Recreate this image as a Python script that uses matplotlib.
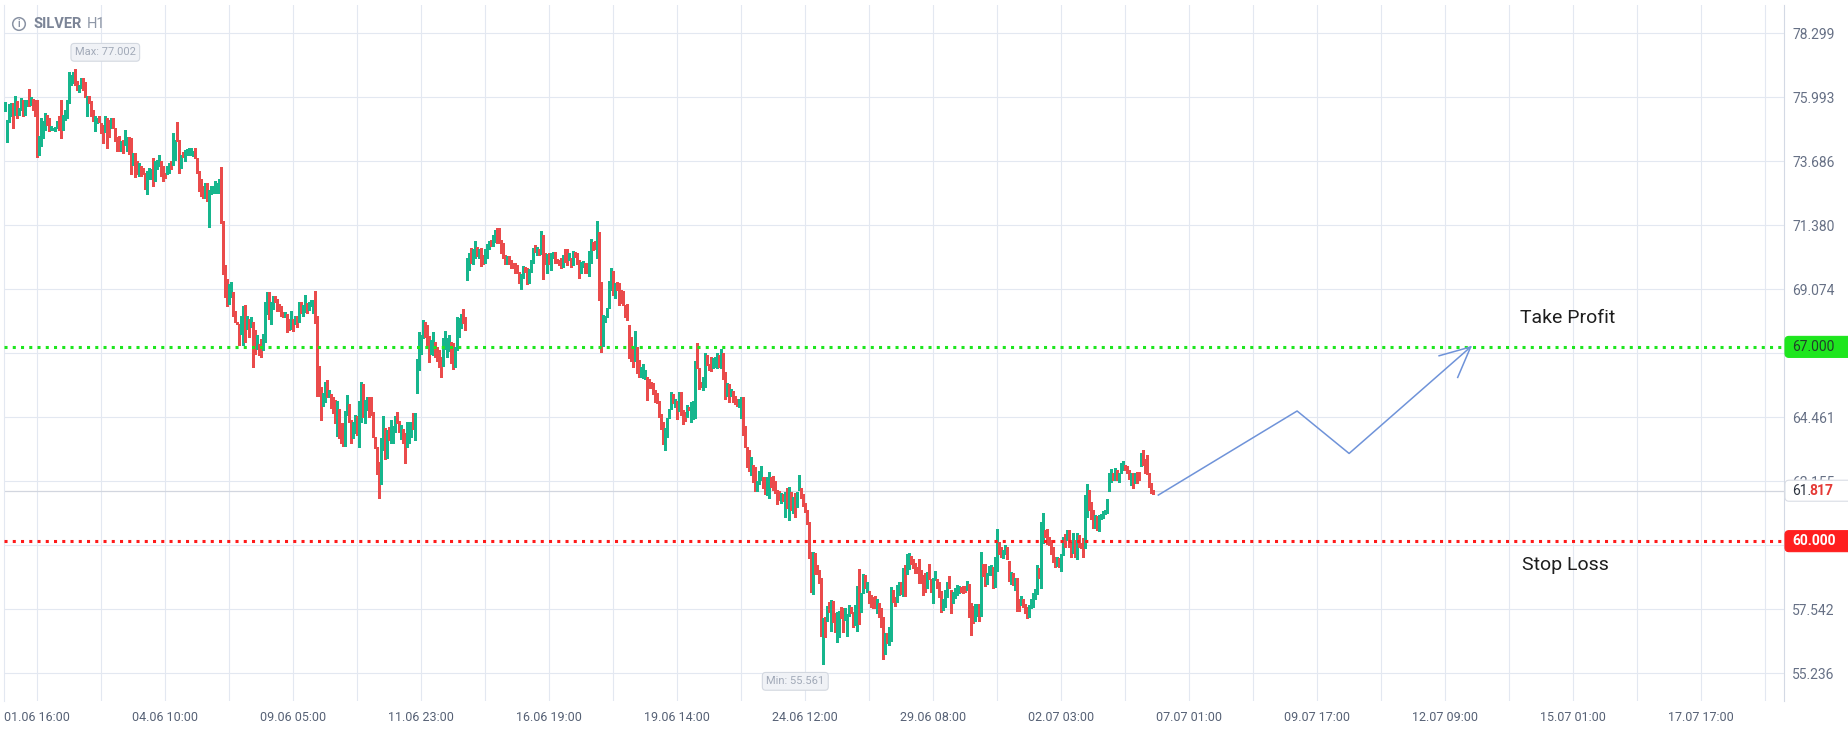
import numpy as np
import matplotlib
matplotlib.use("Agg")
import matplotlib.pyplot as plt
from matplotlib.patches import FancyBboxPatch, Circle
import matplotlib.transforms as mtransforms

plt.rcParams['font.family'] = ['Roboto', 'DejaVu Sans']

# ---------------- data (hourly SILVER candles: high, low, direction 1=up 0=down) ----------------
highs = [
    75.81, 75.19, 75.75, 75.79, 75.79, 76.05, 75.85, 75.61, 75.97, 75.91,
    75.91, 75.91, 76.30, 75.99, 75.93, 75.91, 75.91, 74.59, 75.25, 75.13,
    75.43, 75.37, 75.25, 74.97, 74.89, 74.93, 75.15, 75.33, 75.91, 75.37,
    75.55, 75.91, 76.91, 76.80, 76.92, 77.002, 76.59, 76.44, 76.68, 76.68,
    76.54, 76.03, 76.03, 75.85, 75.55, 75.31, 75.25, 75.31, 75.05, 75.01,
    75.33, 75.25, 75.19, 75.25, 75.25, 74.89, 74.57, 74.59, 74.41, 74.47,
    74.83, 74.57, 74.57, 74.53, 73.99, 73.99, 73.69, 73.63, 73.51, 73.45,
    73.28, 73.33, 73.45, 73.40, 73.81, 73.69, 73.75, 73.93, 73.69, 73.51,
    73.28, 73.51, 73.63, 73.69, 74.71, 74.47, 75.09, 74.47, 73.93, 74.02,
    74.11, 74.14, 74.15, 74.15, 74.05, 74.15, 73.81, 73.33, 73.04, 72.80,
    72.89, 72.89, 72.64, 72.80, 72.80, 72.98, 72.92, 73.04, 73.49, 71.52,
    69.95, 69.45, 69.27, 69.33, 68.97, 68.31, 67.89, 67.83, 68.13, 68.49,
    68.52, 68.13, 68.01, 68.07, 67.89, 67.60, 67.42, 67.12, 67.30, 67.48,
    68.61, 68.97, 68.97, 68.61, 68.85, 68.85, 68.73, 68.55, 68.49, 68.25,
    68.25, 68.19, 68.01, 68.31, 68.01, 68.13, 68.13, 68.61, 68.63, 68.51,
    68.87, 68.57, 68.63, 68.69, 68.69, 69.02, 68.11, 66.31, 65.56, 65.35,
    65.74, 65.80, 65.44, 65.32, 65.18, 65.08, 65.06, 64.76, 64.27, 64.27,
    64.70, 65.26, 64.94, 64.36, 64.30, 64.54, 64.51, 65.05, 65.72, 65.68,
    65.08, 65.18, 65.20, 65.20, 64.65, 63.74, 63.40, 62.84, 63.70, 64.51,
    64.06, 64.00, 64.12, 64.36, 64.15, 64.51, 64.65, 64.34, 64.18, 64.03,
    63.91, 64.30, 64.30, 64.30, 64.63, 64.63, 66.55, 67.55, 67.43, 67.97,
    67.91, 67.79, 67.39, 67.25, 67.55, 67.19, 67.00, 66.88, 66.64, 67.33,
    67.57, 67.33, 67.43, 67.19, 67.13, 67.00, 68.06, 68.05, 68.18, 68.36,
    68.09, 70.21, 70.37, 70.57, 70.52, 70.81, 70.61, 70.52, 70.55, 70.31,
    70.51, 70.70, 70.81, 70.85, 71.03, 71.21, 71.30, 71.27, 70.85, 70.73,
    70.31, 70.27, 70.27, 70.13, 70.04, 70.01, 69.95, 69.71, 69.62, 69.91,
    69.89, 69.83, 69.79, 70.13, 70.57, 70.67, 70.61, 70.52, 71.17, 71.05,
    70.40, 70.33, 70.37, 70.39, 70.43, 70.43, 70.15, 70.13, 70.19, 70.31,
    70.52, 70.52, 70.37, 70.19, 70.45, 70.43, 70.40, 70.13, 70.07, 70.09,
    70.01, 70.01, 70.45, 70.87, 70.79, 70.83, 71.53, 71.15, 69.35, 68.15,
    68.11, 68.39, 69.37, 69.83, 69.73, 69.29, 69.35, 69.29, 69.05, 69.01,
    68.51, 68.54, 67.79, 67.37, 67.01, 67.57, 67.01, 66.53, 66.29, 66.38,
    66.17, 65.93, 65.83, 65.72, 65.69, 65.44, 65.35, 65.05, 64.57, 64.30,
    64.06, 64.42, 64.78, 65.36, 65.30, 65.12, 65.06, 65.38, 65.36, 64.72,
    64.66, 64.90, 64.84, 65.02, 65.05, 66.50, 67.15, 66.23, 65.75, 65.93,
    66.79, 66.71, 66.38, 66.62, 66.59, 66.62, 66.77, 66.71, 66.91, 66.77,
    66.11, 65.71, 65.66, 65.50, 65.42, 65.24, 65.12, 65.12, 65.20, 65.20,
    64.15, 63.40, 63.28, 63.02, 62.74, 62.66, 62.18, 62.54, 62.71, 62.32,
    62.30, 62.32, 62.50, 62.32, 62.35, 62.18, 61.84, 61.82, 61.75, 61.70,
    61.78, 61.90, 61.96, 61.78, 61.58, 61.75, 61.78, 62.38, 61.93, 61.69,
    61.36, 61.12, 60.70, 59.62, 59.60, 59.56, 59.14, 58.96, 58.68, 57.22,
    57.25, 57.66, 57.82, 57.88, 57.84, 57.40, 57.46, 57.49, 57.64, 57.58,
    57.58, 57.37, 57.70, 57.64, 57.46, 57.70, 58.38, 58.99, 58.14, 58.82,
    58.78, 58.54, 58.21, 58.06, 58.00, 58.02, 57.90, 57.76, 57.60, 57.28,
    56.70, 56.68, 56.92, 58.36, 58.24, 58.00, 58.42, 58.54, 58.54, 59.02,
    59.14, 59.54, 59.56, 59.46, 59.34, 59.20, 59.08, 59.34, 58.96, 58.78,
    58.84, 58.90, 59.18, 58.62, 58.66, 58.94, 58.62, 58.54, 58.21, 57.90,
    58.24, 58.54, 58.74, 58.24, 58.18, 58.30, 58.42, 58.38, 58.36, 58.38,
    58.38, 58.56, 58.45, 57.78, 57.66, 57.73, 57.73, 57.73, 59.62, 59.16,
    59.16, 58.84, 59.10, 59.14, 59.08, 59.42, 60.44, 59.98, 59.80, 59.68,
    59.86, 59.80, 59.29, 58.90, 58.86, 58.66, 58.66, 57.90, 58.02, 57.90,
    57.73, 57.64, 57.70, 57.91, 58.12, 58.26, 59.14, 59.04, 60.70, 61.00,
    60.40, 60.44, 60.14, 60.04, 59.80, 59.44, 59.44, 59.38, 59.54, 60.14,
    60.26, 60.40, 60.40, 59.98, 60.28, 60.04, 60.28, 60.22, 59.92, 60.10,
    61.66, 62.06, 61.84, 61.42, 61.12, 60.94, 60.90, 60.94, 60.98, 61.08,
    61.14, 61.52, 62.47, 62.60, 62.47, 62.62, 62.56, 62.47, 62.80, 62.89,
    62.74, 62.71, 62.56, 62.47, 62.47, 62.47, 62.50, 62.50, 63.16, 63.28,
    62.95, 63.10, 62.47, 62.08, 61.84,
]

lows = [
    75.49, 74.38, 75.09, 75.31, 74.87, 75.37, 75.25, 75.37, 75.55, 75.31,
    75.37, 75.67, 75.67, 75.73, 75.55, 75.31, 73.84, 73.90, 74.23, 74.53,
    74.83, 75.01, 74.79, 74.81, 74.81, 74.77, 74.87, 74.83, 74.51, 74.83,
    75.19, 75.25, 75.79, 76.42, 76.50, 76.44, 76.26, 76.17, 76.32, 76.26,
    76.00, 75.31, 75.79, 75.31, 75.13, 74.79, 75.07, 75.09, 74.71, 74.33,
    74.73, 74.17, 74.55, 74.89, 74.89, 74.43, 74.05, 74.05, 74.05, 73.99,
    74.29, 74.05, 73.96, 73.24, 73.54, 73.13, 73.22, 73.16, 73.16, 73.24,
    72.70, 72.50, 73.04, 73.04, 72.80, 72.98, 73.40, 73.51, 73.16, 72.98,
    73.10, 73.22, 73.28, 73.40, 73.55, 73.75, 74.41, 73.25, 73.46, 73.85,
    73.69, 73.93, 73.93, 73.90, 73.87, 73.81, 73.28, 72.62, 72.44, 72.38,
    72.38, 72.26, 71.33, 72.50, 72.53, 72.56, 72.56, 72.56, 71.45, 69.63,
    68.79, 68.49, 68.55, 68.79, 68.13, 67.89, 67.82, 67.06, 67.48, 67.06,
    67.18, 67.66, 67.36, 67.71, 66.28, 66.76, 66.94, 66.70, 66.64, 66.88,
    67.18, 68.19, 68.01, 67.83, 68.37, 68.61, 68.31, 68.31, 68.13, 68.07,
    68.07, 67.54, 67.60, 67.66, 67.56, 67.83, 67.71, 67.89, 68.21, 68.11,
    68.27, 68.21, 68.33, 68.47, 68.21, 67.87, 65.23, 65.24, 64.36, 64.87,
    65.02, 65.20, 65.18, 64.81, 64.63, 64.27, 63.79, 63.70, 63.52, 63.44,
    63.43, 64.54, 64.30, 63.55, 63.70, 63.91, 63.82, 63.40, 64.30, 64.48,
    64.27, 64.72, 64.48, 64.54, 63.76, 63.34, 62.42, 61.56, 62.06, 63.28,
    62.96, 62.98, 63.64, 63.55, 63.55, 63.94, 64.27, 63.94, 63.67, 63.52,
    62.82, 63.40, 63.52, 63.76, 64.03, 63.64, 65.35, 66.17, 66.76, 67.31,
    67.37, 67.00, 66.46, 66.76, 66.70, 66.62, 66.50, 66.28, 65.90, 66.31,
    66.94, 66.64, 66.86, 66.43, 66.22, 66.26, 66.88, 67.34, 67.67, 67.87,
    67.61, 69.41, 69.77, 70.01, 69.98, 70.22, 70.27, 70.19, 69.91, 69.98,
    70.01, 70.22, 70.51, 70.63, 70.63, 70.79, 70.75, 70.73, 70.40, 70.19,
    69.98, 69.98, 69.98, 69.83, 69.83, 69.67, 69.67, 69.29, 69.09, 69.50,
    69.71, 69.26, 69.31, 69.71, 70.01, 70.43, 70.31, 70.31, 70.34, 69.44,
    69.98, 69.67, 69.98, 69.77, 70.22, 70.03, 70.03, 69.95, 69.83, 69.89,
    70.07, 69.95, 70.13, 69.89, 69.95, 70.25, 69.98, 69.49, 69.67, 69.89,
    69.67, 69.67, 69.55, 70.01, 70.49, 70.51, 70.19, 68.69, 66.83, 67.03,
    67.91, 68.09, 68.39, 69.05, 68.87, 68.77, 69.05, 68.51, 68.59, 68.51,
    68.09, 67.97, 66.59, 66.50, 66.29, 66.49, 66.07, 65.93, 65.90, 65.87,
    65.83, 65.08, 65.51, 65.53, 65.30, 65.02, 64.99, 64.46, 64.03, 63.50,
    63.28, 63.76, 64.42, 64.75, 64.99, 64.82, 64.39, 64.70, 64.54, 64.21,
    64.33, 64.48, 64.72, 64.30, 64.39, 64.42, 66.23, 65.47, 65.57, 65.44,
    65.57, 66.35, 66.17, 66.14, 66.25, 66.29, 66.25, 66.29, 66.23, 65.84,
    65.12, 65.24, 65.02, 65.24, 65.02, 64.94, 64.88, 64.84, 64.42, 63.82,
    63.40, 62.66, 62.54, 62.38, 62.14, 61.82, 61.82, 62.06, 62.20, 61.90,
    61.70, 61.66, 61.54, 61.96, 61.84, 61.75, 61.34, 61.48, 61.36, 61.46,
    60.86, 61.18, 60.78, 61.12, 61.02, 60.88, 61.24, 61.84, 61.54, 61.27,
    61.06, 60.62, 59.40, 58.18, 58.08, 58.80, 58.80, 58.50, 56.58, 55.561,
    56.53, 57.12, 57.46, 56.77, 57.10, 56.74, 56.38, 56.56, 57.22, 56.71,
    57.16, 56.58, 57.30, 57.42, 56.92, 56.98, 56.77, 57.00, 57.46, 58.12,
    58.30, 58.15, 57.76, 57.64, 57.60, 57.60, 57.40, 57.25, 56.92, 55.74,
    55.93, 56.34, 56.26, 56.41, 57.82, 57.66, 57.82, 58.06, 58.09, 58.02,
    58.02, 58.82, 58.98, 59.17, 59.02, 58.86, 58.84, 58.48, 58.48, 58.06,
    58.18, 58.30, 58.62, 58.18, 57.78, 58.60, 58.30, 58.00, 57.46, 57.52,
    57.64, 58.00, 58.30, 57.40, 57.76, 57.94, 58.06, 58.12, 58.18, 58.14,
    58.18, 58.24, 57.28, 56.62, 57.06, 57.13, 57.30, 57.13, 57.30, 58.74,
    58.38, 58.45, 58.78, 58.78, 58.30, 58.36, 58.94, 59.54, 59.42, 59.38,
    59.54, 59.34, 58.57, 58.45, 58.42, 58.24, 57.49, 57.49, 57.70, 57.61,
    57.42, 57.22, 57.25, 57.58, 57.64, 57.90, 58.09, 58.66, 58.32, 59.92,
    60.14, 59.90, 59.86, 59.54, 59.24, 59.08, 59.12, 59.08, 58.94, 59.50,
    59.80, 60.04, 59.80, 59.44, 59.56, 59.44, 59.34, 59.80, 59.74, 59.44,
    59.74, 60.88, 61.12, 60.80, 60.46, 60.46, 60.40, 60.38, 60.79, 60.82,
    60.98, 61.00, 61.82, 62.14, 62.20, 62.20, 62.20, 62.14, 62.47, 62.56,
    62.56, 62.44, 62.24, 62.02, 61.90, 62.08, 62.11, 62.20, 62.71, 62.74,
    62.47, 62.42, 61.94, 61.72, 61.70,
]

up = [
    1, 1, 1, 1, 0, 1, 0, 1, 1, 0,
    1, 1, 0, 1, 0, 0, 0, 1, 1, 1,
    1, 0, 0, 1, 1, 1, 1, 0, 0, 1,
    1, 1, 1, 1, 1, 0, 0, 1, 1, 0,
    0, 1, 0, 0, 0, 1, 1, 0, 0, 0,
    1, 0, 0, 1, 0, 0, 0, 0, 1, 0,
    1, 1, 0, 0, 1, 0, 0, 1, 0, 0,
    0, 1, 1, 1, 0, 1, 1, 1, 0, 0,
    0, 1, 1, 0, 1, 1, 0, 0, 1, 0,
    1, 1, 1, 1, 1, 0, 0, 0, 0, 0,
    1, 0, 1, 1, 1, 1, 1, 1, 0, 0,
    0, 0, 1, 1, 0, 0, 0, 0, 1, 1,
    0, 1, 0, 1, 0, 0, 1, 0, 0, 1,
    1, 1, 0, 1, 1, 0, 0, 0, 0, 0,
    1, 0, 0, 1, 0, 1, 0, 1, 0, 1,
    1, 0, 1, 1, 1, 0, 0, 0, 0, 1,
    1, 0, 1, 0, 0, 0, 1, 0, 0, 0,
    1, 1, 0, 0, 1, 1, 0, 1, 1, 0,
    1, 1, 0, 0, 0, 0, 0, 0, 1, 1,
    0, 1, 0, 1, 1, 1, 0, 0, 1, 0,
    0, 1, 1, 1, 0, 1, 1, 1, 1, 1,
    0, 0, 0, 1, 1, 0, 0, 0, 0, 1,
    1, 1, 1, 0, 0, 1, 1, 1, 1, 0,
    0, 1, 1, 0, 1, 1, 0, 1, 0, 0,
    1, 1, 1, 0, 1, 1, 0, 0, 0, 0,
    0, 1, 0, 0, 0, 0, 0, 0, 1, 1,
    0, 0, 1, 1, 1, 0, 1, 0, 1, 0,
    0, 1, 0, 1, 1, 0, 0, 0, 0, 1,
    0, 0, 1, 0, 1, 0, 0, 0, 1, 1,
    0, 0, 1, 1, 0, 0, 1, 0, 0, 1,
    1, 1, 1, 1, 0, 1, 0, 0, 0, 0,
    0, 0, 0, 0, 0, 1, 0, 0, 1, 1,
    1, 0, 0, 0, 0, 0, 0, 0, 0, 0,
    1, 1, 1, 1, 0, 1, 0, 1, 0, 0,
    0, 1, 0, 1, 1, 1, 0, 0, 0, 1,
    1, 0, 0, 0, 1, 1, 1, 0, 1, 0,
    0, 1, 0, 1, 0, 0, 0, 1, 1, 0,
    0, 0, 0, 1, 0, 0, 1, 1, 1, 0,
    0, 1, 1, 0, 0, 0, 0, 0, 1, 0,
    1, 0, 1, 0, 1, 0, 1, 1, 0, 0,
    0, 0, 0, 0, 1, 0, 0, 0, 0, 1,
    0, 1, 0, 1, 0, 0, 1, 1, 0, 0,
    1, 1, 1, 0, 0, 1, 1, 0, 1, 1,
    0, 1, 0, 0, 0, 0, 1, 0, 0, 0,
    1, 0, 1, 1, 0, 0, 1, 1, 0, 1,
    0, 1, 1, 0, 0, 0, 0, 0, 0, 0,
    0, 1, 0, 0, 1, 1, 0, 0, 0, 1,
    1, 1, 0, 0, 1, 1, 1, 1, 0, 0,
    0, 1, 0, 0, 0, 1, 1, 0, 1, 0,
    0, 1, 1, 1, 0, 1, 1, 0, 0, 1,
    1, 0, 0, 1, 0, 1, 0, 0, 1, 0,
    0, 0, 1, 1, 1, 1, 1, 0, 1, 1,
    0, 0, 0, 0, 0, 0, 1, 0, 1, 1,
    0, 1, 0, 0, 1, 0, 1, 0, 0, 0,
    1, 1, 0, 0, 0, 1, 0, 1, 1, 1,
    1, 1, 1, 1, 0, 1, 0, 1, 1, 1,
    0, 0, 0, 1, 0, 1, 0, 0, 1, 0,
    0, 0, 0, 0, 0,
]

last_price = 61.817
tp_price = 67.000
sl_price = 60.000

y_ticks = [78.299, 75.993, 73.686, 71.380, 69.074, 66.768, 64.461, 62.155, 59.849, 57.542, 55.236]
x_labels = ['01.06 16:00', '04.06 10:00', '09.06 05:00', '11.06 23:00', '16.06 19:00',
            '19.06 14:00', '24.06 12:00', '29.06 08:00', '02.07 03:00', '07.07 01:00',
            '09.07 17:00', '12.07 09:00', '15.07 01:00', '17.07 17:00']
first_label_bar = 16
bars_per_label = 64

# projected path (bar index, price) drawn as a blue arrow
arrow_bar = [576.5, 645.9, 671.9, 732.7]
arrow_price = [61.66, 64.69, 63.16, 67.00]
arrow_head_bar = [716.9, 726.2]
arrow_head_price = [66.68, 65.90]

# ---------------- figure ----------------
W, H = 1848, 729
fig = plt.figure(figsize=(W / 100, H / 100), dpi=100)
fig.patch.set_facecolor('white')
ax = fig.add_axes([4 / W, 28 / H, 1780 / W, 696 / H])
ax.set_facecolor('white')
ax.set_xlim(-0.65, 889.35)
ax.set_ylim(54.24, 79.32)

grid_c = '#e3e8f1'
green_c = '#16b68d'
red_c = '#ea4b4b'

n = min(len(highs), len(lows), len(up))
xs = np.arange(n)
hi = np.array(highs[:n])
lo = np.array(lows[:n])
cols = [green_c if u else red_c for u in up[:n]]
ax.vlines(xs, lo, hi, colors=cols, linewidth=0.8, antialiased=False, zorder=3)

# ticks / grid
major = [first_label_bar + bars_per_label * k for k in range(len(x_labels))]
minor = [first_label_bar + bars_per_label // 2 + bars_per_label * k for k in range(len(x_labels))]
ax.set_xticks(major)
ax.set_xticklabels(x_labels)
ax.set_xticks(minor, minor=True)
ax.set_yticks(y_ticks)
# labels lying under the TP / SL tags are hidden, as in the reference
hidden = {f'{tp_price:.3f}', f'{sl_price:.3f}'}
ylabels = []
for v in y_ticks:
    if abs(v - tp_price) < 0.5 or abs(v - sl_price) < 0.5:
        ylabels.append('')
    else:
        ylabels.append(f'{v:.3f}')
ax.set_yticklabels(ylabels)
ax.grid(True, which='both', color=grid_c, linewidth=0.8, zorder=0)
ax.set_axisbelow(True)
ax.yaxis.tick_right()
ax.tick_params(axis='y', which='both', length=0, pad=6, labelsize=10, labelcolor='#667085')
ax.tick_params(axis='x', which='both', length=0, pad=7, labelsize=9, labelcolor='#566175')
for s in ['top', 'bottom']:
    ax.spines[s].set_visible(False)
ax.spines['left'].set_color(grid_c)
ax.spines['left'].set_linewidth(0.8)
ax.spines['right'].set_color('#d3d9e4')
ax.spines['right'].set_linewidth(0.8)

# price lines
ax.axhline(last_price, color='#d2d6df', linewidth=0.9, zorder=2)
ax.axhline(tp_price, color='#1ee61e', linewidth=2.2, linestyle=(0, (1, 1.7)), zorder=4)
ax.axhline(sl_price, color='#ff1a1a', linewidth=2.2, linestyle=(0, (1, 1.7)), zorder=4)

# projection arrow
ax.plot(arrow_bar, arrow_price, color='#6f93d9', linewidth=1.1, zorder=5)
ax.plot([arrow_head_bar[0], arrow_bar[-1], arrow_head_bar[1]],
        [arrow_head_price[0], arrow_price[-1], arrow_head_price[1]],
        color='#6f93d9', linewidth=1.1, zorder=5)

ax.text(781, 68.04, 'Take Profit', ha='center', va='center', fontsize=14, color='#1e1e1e')
ax.text(780, 59.14, 'Stop Loss', ha='center', va='center', fontsize=14, color='#1e1e1e')

# max / min markers
imax = int(np.argmax(hi))
imin = int(np.argmin(lo))
box_kw = dict(boxstyle='round,pad=0.35,rounding_size=0.3', fc='#f0f2f6', ec='#d3d8e0', lw=0.8)
ax.annotate(f'Max: {hi[imax]:.3f}', xy=(imax, hi[imax]), xytext=(30, 17), textcoords='offset pixels',
            ha='center', va='center', fontsize=8, color='#a2aab8', bbox=box_kw, zorder=6)
ax.annotate(f'Min: {lo[imin]:.3f}', xy=(imin, lo[imin]), xytext=(-28, -17), textcoords='offset pixels',
            ha='center', va='center', fontsize=8, color='#a2aab8', bbox=box_kw, zorder=6)

# ---------------- right-side value tags ----------------
ident = mtransforms.IdentityTransform()

def ypix(price):
    return ax.transData.transform((0, price))[1]

def tag(price, fc, ec, zorder=7):
    yp = ypix(price)
    p = FancyBboxPatch((1785, yp - 10.5), 80, 21, boxstyle='round,pad=0,rounding_size=4',
                       transform=ident, fc=fc, ec=ec, lw=0.8, zorder=zorder)
    fig.add_artist(p)
    return yp

yp = tag(tp_price, '#1ee61e', '#1ee61e')
fig.text(1792, yp, f'{tp_price:.3f}', transform=ident, ha='left', va='center',
         fontsize=10, color='#20402a', zorder=8)
yp = tag(sl_price, '#ff1f1f', '#ff1f1f')
fig.text(1792, yp, f'{sl_price:.3f}', transform=ident, ha='left', va='center',
         fontsize=10, color='white', fontweight='bold', zorder=8)
yp = tag(last_price, 'white', '#d9dde5')
int_part, dec_part = f'{last_price:.3f}'.split('.')
fig.text(1792, yp, int_part + '.', transform=ident, ha='left', va='center',
         fontsize=10, color='#2d3440', zorder=8)
fig.text(1809.5, yp, dec_part, transform=ident, ha='left', va='center',
         fontsize=10, color='#e53935', fontweight='bold', zorder=8)

# ---------------- title ----------------
fig.add_artist(Circle((19, H - 24), 6.3, transform=ident, fill=False, ec='#8a93a4', lw=1.1, zorder=8))
fig.text(19, H - 24, 'i', transform=ident, ha='center', va='center', fontsize=7,
         fontweight='bold', color='#8a93a4', zorder=8)
fig.text(34, H - 24, 'SILVER', transform=ident, ha='left', va='center', fontsize=10.5,
         fontweight='bold', color='#7b8496', zorder=8)
fig.text(87, H - 24, 'H1', transform=ident, ha='left', va='center', fontsize=10.5,
         color='#8d96a6', zorder=8)

fig.savefig('out.png', dpi=100, facecolor='white')
